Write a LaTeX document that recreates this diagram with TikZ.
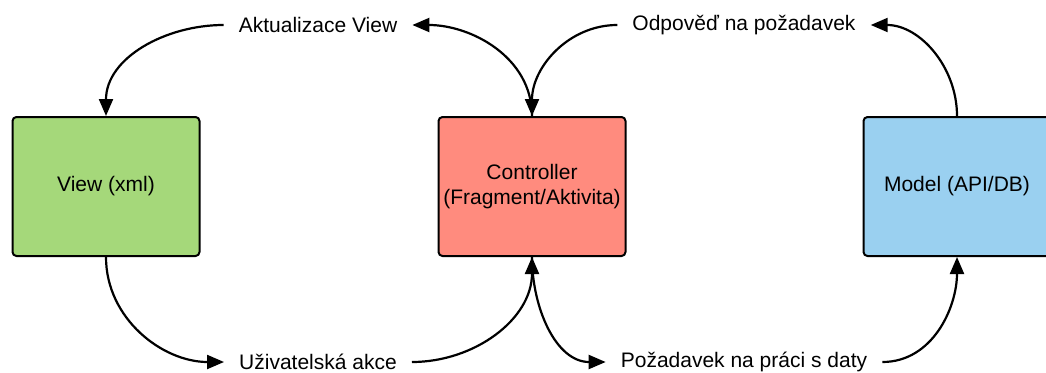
\documentclass[tikz,border=0pt]{standalone}
\usepackage{fontspec}
\setmainfont{Liberation Sans}
\usetikzlibrary{arrows.meta}
\definecolor{viewgreen}{RGB}{165,216,122}
\definecolor{ctrlred}{RGB}{255,139,126}
\definecolor{modelblue}{RGB}{154,208,240}
\tikzset{
  block/.style={draw=black, line width=2pt, rounded corners=4pt,
    minimum width=187pt, minimum height=139pt, align=center,
    font=\fontsize{21}{25}\selectfont},
  lbl/.style={inner xsep=15pt, inner ysep=0pt, font=\fontsize{21}{25}\selectfont},
  flow/.style={line width=2.2pt, -{Triangle[length=17pt,width=14pt]}}
}
\begin{document}
\begin{tikzpicture}[x=1pt,y=-1pt]
  \useasboundingbox (0,0) rectangle (1046,372);
  % the three components
  \node[block, fill=viewgreen] (view) at (106,186.5) {View (xml)};
  \node[block, fill=ctrlred] (ctrl) at (532,186.5) {Controller\\(Fragment/Aktivita)};
  \node[block, fill=modelblue] (model) at (957,186.5) {Model (API/DB)};
  % message labels
  \node[lbl] (upd) at (318,25) {Aktualizace View};
  \node[lbl] (resp) at (744,25) {Odpověď na požadavek};
  \node[lbl] (act) at (318,362) {Uživatelská akce};
  \node[lbl] (req) at (744,362) {Požadavek na práci s daty};
  % connectors
  \draw[flow] (upd.west) to[out=180,in=90] (view.north);
  \draw[flow] (ctrl.north) to[out=90,in=0] (upd.east);
  \draw[flow] (resp.west) to[out=180,in=90] (ctrl.north);
  \draw[flow] (model.north) to[out=90,in=0] (resp.east);
  \draw[flow] (view.south) to[out=-90,in=180] (act.west);
  \draw[flow] (act.east) to[out=0,in=-90] (ctrl.south);
  \draw[flow] (ctrl.south) to[out=-90,in=180] (req.west);
  \draw[flow] (req.east) to[out=0,in=-90] (model.south);
\end{tikzpicture}
\end{document}
